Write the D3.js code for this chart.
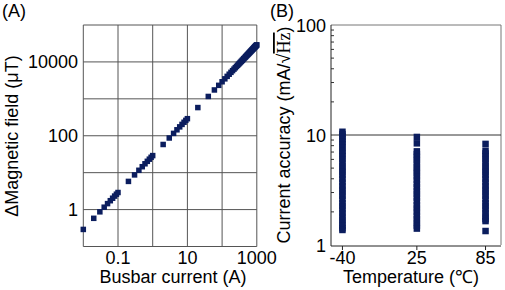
<!DOCTYPE html>
<html><head><meta charset="utf-8">
<script src="https://cdn.jsdelivr.net/npm/d3@7"></script>
<style>
body{margin:0;background:#fff}
text{font-family:"Liberation Sans",Arial,sans-serif;fill:#000}
</style></head>
<body><svg id="c" width="505" height="290"></svg>
<script>
// Panel A data: busbar current (A) vs delta magnetic field (uT)
const busbarCurrent = [0.01,0.02,0.03,0.04,0.05,0.06,0.07,0.08,0.09,0.1,0.2,0.3,0.4,0.5,0.6,0.7,0.8,0.9,1,2,3,4,5,6,7,8,9,10,20,40,60,80,
 100,120,140,160,180,200,220,240,260,280,300,320,340,360,380,400,420,440,460,480,500,520,540,560,580,600,620,640,660,680,700,720,740,760,780,800,820,840,860,880,900,920,940,960,980,1000];
const magneticField = [0.29,0.58,0.87,1.16,1.45,1.74,2.03,2.32,2.61,2.9,5.8,8.7,11.6,14.5,17.4,20.3,23.2,26.1,29,58,87,116,145,174,203,232,261,290,580,1160,1740,2320,
 2900,3480,4060,4640,5220,5800,6380,6960,7540,8120,8700,9280,9860,10440,11020,11600,12180,12760,13340,13920,14500,15080,15660,16240,16820,17400,17980,18560,19140,19720,20300,20880,21460,22040,22620,23200,23780,24360,24940,25520,26100,26680,27260,27840,28420,29000];
const xTicksA = [0.1,10,1000];
const yTicksA = [1,100,10000];

// Panel B data: current accuracy (mA/sqrtHz) at each temperature
const temperatures = [-40,25,85];
const accuracyM40 = [10.7,10.2,9.7,9.2,8.7,8.2,7.7,7.2,6.8,6.4,6.0,5.6,5.2,4.9,4.6,4.3,4.0,3.7,3.45,3.2,3.0,2.8,2.6,2.4,2.25,2.1,1.95,1.82,1.7,1.6,1.5,1.42,1.37];
const accuracy25 = [9.6,8.4,7.1,6.7,6.3,5.9,5.5,5.1,4.8,4.5,4.2,3.9,3.6,3.35,3.1,2.9,2.7,2.5,2.3,2.15,2.0,1.85,1.72,1.6,1.5,1.41];
const accuracy85 = [8.3,7.2,6.8,6.4,6.0,5.6,5.2,4.9,4.6,4.3,4.0,3.7,3.45,3.2,3.0,2.8,2.6,2.4,2.25,2.1,1.95,1.82,1.72,1.65,1.34];
const yTicksB = [1,10,100];

const svg = d3.select("#c");
const navy = "#0b1d5e";
const FS = 18;

// ---------- Panel A ----------
const xA = d3.scaleLog().domain([0.01,1000]).range([83.3,256.8]);
const yA = d3.scaleLog().domain([0.1,100000]).range([246.5,25]);
const gA = svg.append("g");
const decX = [0.01,0.1,1,10,100,1000];
const decY = [0.1,1,10,100,1000,10000,100000];
gA.selectAll("line.vx").data(decX).join("line")
  .attr("x1",d=>xA(d)).attr("x2",d=>xA(d)).attr("y1",yA(0.1)).attr("y2",yA(100000))
  .attr("stroke","#555").attr("stroke-width",1);
gA.selectAll("line.hy").data(decY).join("line")
  .attr("y1",d=>yA(d)).attr("y2",d=>yA(d)).attr("x1",xA(0.01)).attr("x2",xA(1000))
  .attr("stroke","#555").attr("stroke-width",1);
const ptsA = busbarCurrent.map((c,i)=>[c,magneticField[i]]);
const sA = 5.5;
gA.selectAll("rect.p").data(ptsA).join("rect")
  .attr("x",d=>xA(d[0])-sA/2).attr("y",d=>yA(d[1])-sA/2)
  .attr("width",sA).attr("height",sA).attr("fill",navy);
gA.selectAll("text.xt").data(xTicksA).join("text")
  .attr("x",d=>xA(d)).attr("y",264).attr("text-anchor","middle")
  .attr("font-size",FS).text(d=>d3.format("~g")(d));
gA.selectAll("text.yt").data(yTicksA).join("text")
  .attr("x",78).attr("y",d=>yA(d)+6.5).attr("text-anchor","end")
  .attr("font-size",FS).text(d=>d3.format("d")(d));
gA.append("text").attr("x",173).attr("y",283).attr("text-anchor","middle")
  .attr("font-size",FS).text("Busbar current (A)");
gA.append("text").attr("transform","translate(18,136) rotate(-90)").attr("text-anchor","middle")
  .attr("font-size",FS).text("ΔMagnetic field (μT)");
gA.append("text").attr("x",2).attr("y",17).attr("font-size",FS).text("(A)");

// ---------- Panel B ----------
const xB = d3.scaleLinear().domain([-50,98.5]).range([331,501]);
const yB = d3.scaleLog().domain([1,100]).range([245,25]);
const gB = svg.append("g");
gB.append("line").attr("x1",xB(-50)).attr("x2",xB(98.5)).attr("y1",yB(100)).attr("y2",yB(100)).attr("stroke","#777");
gB.append("line").attr("x1",xB(98.5)).attr("x2",xB(98.5)).attr("y1",yB(100)).attr("y2",yB(1)).attr("stroke","#777");
gB.append("line").attr("x1",xB(-50)).attr("x2",xB(98.5)).attr("y1",yB(10)).attr("y2",yB(10)).attr("stroke","#333");
const colsB = [accuracyM40, accuracy25, accuracy85];
const sB = 6.5;
colsB.forEach((vals,ci)=>{
  gB.selectAll("rect.c"+ci).data(vals).join("rect")
    .attr("x",xB(temperatures[ci])-sB/2).attr("y",d=>yB(d)-sB/2)
    .attr("width",sB).attr("height",sB).attr("fill",navy);
});
const minor = [2,3,4,5,6,7,8,9,20,30,40,50,60,70,80,90];
gB.selectAll("line.mn").data(minor).join("line")
  .attr("x1",xB(-50)).attr("x2",xB(-50)+3).attr("y1",d=>yB(d)).attr("y2",d=>yB(d))
  .attr("stroke","#333");
gB.append("line").attr("x1",xB(-50)).attr("x2",xB(-50)).attr("y1",yB(100)).attr("y2",yB(1)+1).attr("stroke","#222");
gB.append("line").attr("x1",xB(-50)).attr("x2",xB(98.5)).attr("y1",yB(1)+1).attr("y2",yB(1)+1).attr("stroke","#222");
gB.selectAll("line.xtk").data(temperatures).join("line")
  .attr("x1",d=>xB(d)).attr("x2",d=>xB(d)).attr("y1",yB(1)+1).attr("y2",yB(1)+5).attr("stroke","#222");
gB.selectAll("text.xt").data(temperatures).join("text")
  .attr("x",d=>xB(d)).attr("y",264).attr("text-anchor","middle")
  .attr("font-size",FS).text(d=>d);
gB.selectAll("text.yt").data(yTicksB).join("text")
  .attr("x",326).attr("y",d=>yB(d)+6.5).attr("text-anchor","end")
  .attr("font-size",FS).text(d=>d);
gB.append("text").attr("x",411).attr("y",283).attr("text-anchor","middle")
  .attr("font-size",FS).text("Temperature (℃)");
const yl = gB.append("text").attr("transform","translate(290,135) rotate(-90)").attr("text-anchor","middle")
  .attr("font-size",FS);
yl.append("tspan").text("Current accuracy (mA/√");
yl.append("tspan").attr("font-family","'Liberation Serif',serif").style("text-decoration","overline").text("Hz");
yl.append("tspan").text(")");
gB.append("text").attr("x",270).attr("y",17).attr("font-size",FS).text("(B)");
</script></body></html>
